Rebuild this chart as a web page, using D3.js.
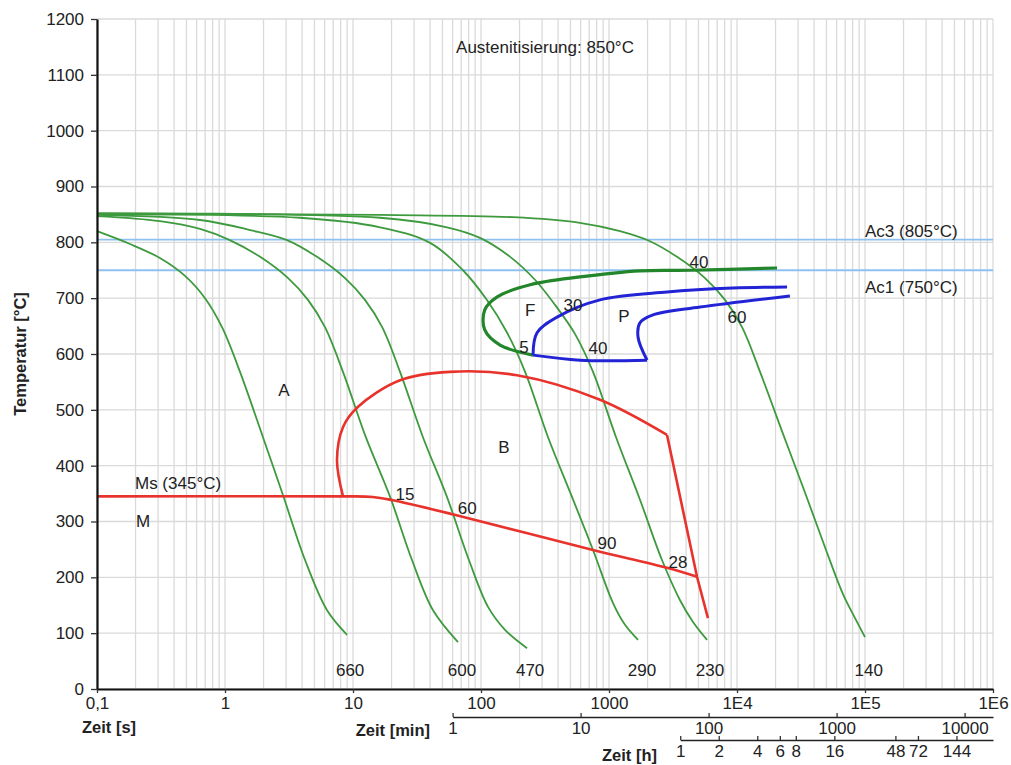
<!DOCTYPE html>
<html>
<head>
<meta charset="utf-8">
<script src="https://cdn.jsdelivr.net/npm/d3@7"></script>
<style>
  body { margin: 0; background: #fff; }
  text { font-family: "Liberation Sans", Arial, sans-serif; fill: #222; }
</style>
</head>
<body>
<div id="chart"></div>
<script>
// ---- data (time in seconds, temperature in °C) ----
const tempTicks = d3.range(0, 1201, 100);
const secTicks = [0.1, 1, 10, 100, 1000, 1e4, 1e5, 1e6];
const secLabels = ["0,1", "1", "10", "100", "1000", "1E4", "1E5", "1E6"];
const minTicks = [1, 10, 100, 1000, 10000];
const hourTicks = [1, 2, 4, 6, 8, 16, 48, 72, 144];

// cooling curves, named by the hardness at their end
const hardness = [660, 600, 470, 290, 230, 140];
const hardnessAt = [9.5, 71, 242, 1811, 6150, 107000];
const cool660 = [[0.1,820],[0.181,797],[0.31,772],[0.487,740],[0.698,700],[0.948,648],[1.31,568],[1.98,451],[2.84,347],[4.22,231],[6.27,141],[8.98,97]];
const cool600 = [[0.1,847],[0.31,838],[0.638,824],[1.09,804],[1.88,774],[3.11,736],[4.45,697],[6.04,648],[8.35,568],[12.6,451],[19.5,344],[28.9,231],[42.2,141],[66.1,84]];
const cool470 = [[0.1,849],[0.638,840],[1.57,822],[3.05,804],[5.23,774],[8.66,736],[12.4,697],[16.9,648],[23.3,568],[35.2,451],[54.2,344],[80.5,231],[113.5,147],[154,106],[229,73]];
const cool290 = [[0.1,850],[3.85,844],[16.3,827],[40,799],[72.3,750],[111,697],[160,638],[221,568],[334,451],[514,344],[750,249],[1075,154],[1334,115],[1687,88]];
const cool230 = [[0.1,852],[16.3,844],[54.2,827],[98.2,808],[169,774],[264,733],[379,688],[542,636],[750,568],[1135,451],[1746,339],[2594,231],[3589,159],[4532,120],[5834,88]];
const cool140 = [[0.1,852],[16.3,849],[178,845],[593,835],[1219,820],[2089,802],[3398,774],[5623,736],[8060,697],[10950,648],[15140,568],[22880,457],[34600,347],[49600,249],[67320,170],[83600,127],[100000,93]];
const coolingCurves = [cool660, cool600, cool470, cool290, cool230, cool140];

// ferrite start
const ferrite = [[20540,754],[4300,750],[1746,749],[593,738],[242,724],[133,702],[107,679],[107,643],[141,616],[255,598]];
// pearlite region
const pearliteUpper = [[24600,720],[9300,718],[2840,711],[851,697],[393,666],[274,638],[255,598]];
const pearliteBottom = [[255,598],[593,589],[1982,589]];
const pearliteHook = [[1982,589],[1687,630],[1746,656],[2208,670],[5140,684],[25900,704]];
// bainite region and martensite start
const bainiteNose = [[8.35,345],[7.5,410],[8.35,469],[10.9,505],[23.3,553],[57,568],[191,562],[851,518],[2840,455]];
const bainiteEnd = [[2840,455],[4870,201],[5930,127]];
const msLine = [[0.1,345],[8.35,345],[14.3,344],[20.5,338],[60,313],[750,249],[2840,217],[4870,201]];

const acLines = [{name: "Ac3 (805°C)", T: 805}, {name: "Ac1 (750°C)", T: 750}];

const curveLabels = [
  {text: "15", t: 25.5, T: 349}, {text: "60", t: 78, T: 324},
  {text: "90", t: 964, T: 261}, {text: "28", t: 3460, T: 227},
  {text: "F", t: 242, T: 679}, {text: "30", t: 524, T: 688},
  {text: "5", t: 217, T: 613}, {text: "40", t: 820, T: 611},
  {text: "P", t: 1310, T: 668}, {text: "40", t: 5050, T: 765},
  {text: "60", t: 10000, T: 666},
  {text: "A", t: 2.89, T: 535}, {text: "B", t: 151, T: 433}, {text: "M", t: 0.229, T: 301}
];

// ---- chart ----
const width = 1011, height = 765;
const margin = {top: 19, right: 18, bottom: 76, left: 97};
const fs = "17px", fsBold = "16.5px";

const svg = d3.select("#chart").append("svg")
  .attr("width", width)
  .attr("height", height);

const x = d3.scaleLog().domain([0.1, 1e6]).range([margin.left, width - margin.right]);
const y = d3.scaleLinear().domain([0, 1200]).range([height - margin.bottom, margin.top]);

// grid
const gridX = [];
for (let e = -1; e < 6; e++) for (let d = 1; d < 10; d++) gridX.push(d * Math.pow(10, e));
gridX.push(1e6);

svg.append("g").selectAll("line").data(gridX).enter().append("line")
  .attr("x1", d => x(d)).attr("x2", d => x(d))
  .attr("y1", y(0)).attr("y2", y(1200))
  .attr("stroke", "#dadada").attr("stroke-width", 1.3);

svg.append("g").selectAll("line").data(tempTicks).enter().append("line")
  .attr("x1", x(0.1)).attr("x2", x(1e6))
  .attr("y1", d => y(d)).attr("y2", d => y(d))
  .attr("stroke", "#dadada").attr("stroke-width", 1.3);

// Ac lines
svg.append("g").selectAll("line").data(acLines).enter().append("line")
  .attr("x1", x(0.1)).attr("x2", x(1e6))
  .attr("y1", d => y(d.T)).attr("y2", d => y(d.T))
  .attr("stroke", "#8ec1ef").attr("stroke-width", 1.8);

svg.append("text").attr("x", x(1e5)).attr("y", y(805) - 8).attr("dy", "0.35em")
  .style("font-size", fs).text(acLines[0].name);
svg.append("text").attr("x", x(1e5)).attr("y", y(750) + 17).attr("dy", "0.35em")
  .style("font-size", fs).text(acLines[1].name);

const line = d3.line()
  .x(d => x(d[0]))
  .y(d => y(d[1]))
  .curve(d3.curveCatmullRom.alpha(0.5));

const straight = d3.line().x(d => x(d[0])).y(d => y(d[1]));

// cooling curves
svg.append("g").selectAll("path").data(coolingCurves).enter().append("path")
  .attr("d", line)
  .attr("fill", "none")
  .attr("stroke", "#3e9a3e")
  .attr("stroke-width", 1.8);

// ferrite
svg.append("path").attr("d", line(ferrite))
  .attr("fill", "none").attr("stroke", "#23862a").attr("stroke-width", 3.2);

// pearlite
[pearliteUpper, pearliteBottom, pearliteHook].forEach(p => {
  svg.append("path").attr("d", line(p))
    .attr("fill", "none").attr("stroke", "#2323d6").attr("stroke-width", 3);
});

// bainite and Ms
svg.append("path").attr("d", line(bainiteNose))
  .attr("fill", "none").attr("stroke", "#e8322c").attr("stroke-width", 2.6);
svg.append("path").attr("d", straight(bainiteEnd))
  .attr("fill", "none").attr("stroke", "#e8322c").attr("stroke-width", 2.6);
svg.append("path").attr("d", line(msLine))
  .attr("fill", "none").attr("stroke", "#e8322c").attr("stroke-width", 2.6);

// labels on curves
svg.append("g").selectAll("text").data(curveLabels).enter().append("text")
  .attr("x", d => x(d.t)).attr("y", d => y(d.T)).attr("dy", "0.35em")
  .attr("text-anchor", "middle")
  .style("font-size", fs)
  .text(d => d.text);

svg.append("g").selectAll("text").data(hardness).enter().append("text")
  .attr("x", (d, i) => x(hardnessAt[i])).attr("y", y(34)).attr("dy", "0.35em")
  .attr("text-anchor", "middle")
  .style("font-size", fs)
  .text(d => d);

svg.append("text").attr("x", x(0.198)).attr("y", y(345) - 13).attr("dy", "0.35em")
  .style("font-size", fs).text("Ms (345°C)");

svg.append("text").attr("x", (x(0.1) + x(1e6)) / 2).attr("y", 47).attr("dy", "0.35em")
  .attr("text-anchor", "middle")
  .style("font-size", fs).text("Austenitisierung: 850°C");

// y axis
const yAxis = svg.append("g")
  .attr("transform", `translate(${margin.left},0)`)
  .call(d3.axisLeft(y).tickValues(tempTicks).tickFormat(d3.format("d")).tickSizeInner(6).tickSizeOuter(0).tickPadding(7));
yAxis.select(".domain").attr("stroke", "#111").attr("stroke-width", 2.2);
yAxis.selectAll(".tick line").attr("stroke", "#333").attr("stroke-width", 1.3);
yAxis.selectAll("text").style("font-size", fs).attr("fill", "#333");

svg.append("text")
  .attr("transform", `translate(20,${(y(0) + y(1200)) / 2}) rotate(-90)`)
  .attr("text-anchor", "middle").attr("dy", "0.35em")
  .style("font-size", fsBold).style("font-weight", "bold")
  .text("Temperatur [°C]");

// seconds axis
const xAxis = svg.append("g")
  .attr("transform", `translate(0,${y(0)})`)
  .call(d3.axisBottom(x).tickValues(secTicks).tickFormat((d, i) => secLabels[i]).tickSizeInner(4).tickSizeOuter(0).tickPadding(4));
xAxis.select(".domain").attr("stroke", "#111").attr("stroke-width", 2.2);
xAxis.selectAll(".tick line").attr("stroke", "#333").attr("stroke-width", 1.3);
xAxis.selectAll("text").style("font-size", fs).attr("fill", "#333");

svg.append("text").attr("x", 82).attr("y", 727).attr("dy", "0.35em")
  .style("font-size", fsBold).style("font-weight", "bold").text("Zeit [s]");

// minutes axis
const xMin = d3.scaleLog().domain([1, 1e6 / 60]).range([x(60), x(1e6)]);
const minAxis = svg.append("g")
  .attr("transform", "translate(0,717)")
  .call(d3.axisBottom(xMin).tickValues(minTicks).tickFormat(d3.format("d")).tickSizeInner(-4).tickSizeOuter(0).tickPadding(5));
minAxis.select(".domain").attr("stroke", "#222").attr("stroke-width", 1.6);
minAxis.selectAll(".tick line").attr("stroke", "#333").attr("stroke-width", 1.3);
minAxis.selectAll("text").style("font-size", fs).attr("fill", "#333");

svg.append("text").attr("x", 430).attr("y", 730).attr("dy", "0.35em")
  .attr("text-anchor", "end")
  .style("font-size", fsBold).style("font-weight", "bold").text("Zeit [min]");

// hours axis
const xHour = d3.scaleLog().domain([1, 1e6 / 3600]).range([x(3600), x(1e6)]);
const hourAxis = svg.append("g")
  .attr("transform", "translate(0,740)")
  .call(d3.axisBottom(xHour).tickValues(hourTicks).tickFormat(d3.format("d")).tickSizeInner(-4).tickSizeOuter(0).tickPadding(5));
hourAxis.select(".domain").attr("stroke", "#222").attr("stroke-width", 1.6);
hourAxis.selectAll(".tick line").attr("stroke", "#333").attr("stroke-width", 1.3);
hourAxis.selectAll("text").style("font-size", fs).attr("fill", "#333");

svg.append("text").attr("x", 657).attr("y", 755).attr("dy", "0.35em")
  .attr("text-anchor", "end")
  .style("font-size", fsBold).style("font-weight", "bold").text("Zeit [h]");
</script>
</body>
</html>
